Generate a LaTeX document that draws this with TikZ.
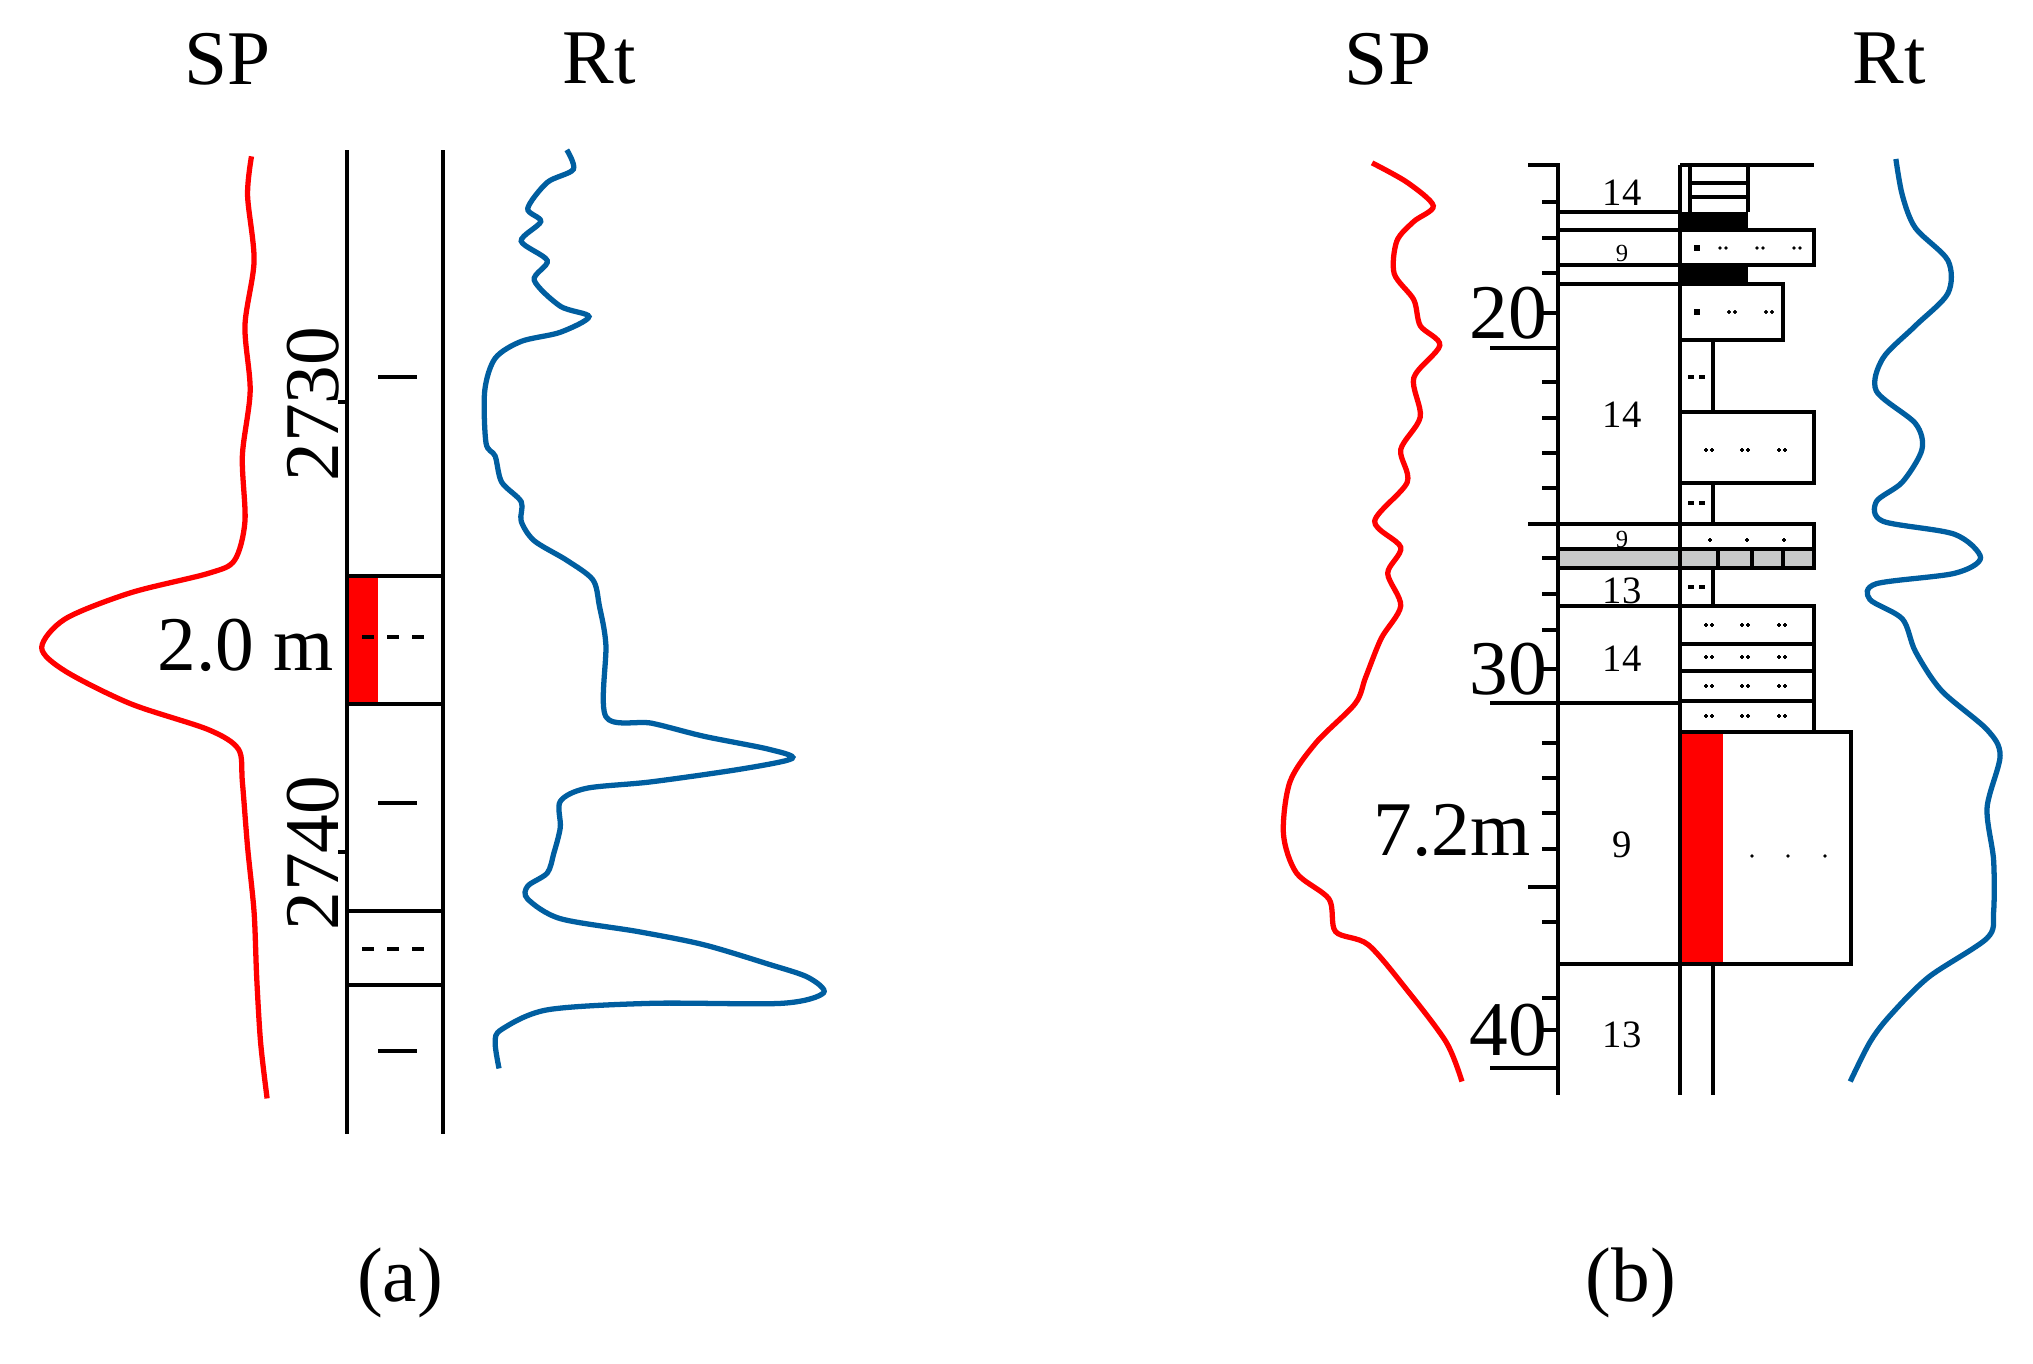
\documentclass[tikz,border=0pt]{standalone}
\usepackage{fontspec}
\setmainfont{Liberation Serif}
\definecolor{rtblue}{RGB}{0,94,160}
\definecolor{litgray}{RGB}{200,202,202}
\tikzset{
  col/.style = {line width=0.9pt},
  splog/.style = {draw=red, line width=1.5pt},
  rtlog/.style = {draw=rtblue, line width=1.5pt},
  big/.style = {font=\fontsize{22}{24}\selectfont, inner sep=0pt},
  small/.style = {font=\fontsize{11}{12}\selectfont, inner sep=0pt},
  tiny/.style = {font=\fontsize{7}{8}\selectfont, inner sep=0pt},
}
\newcommand{\dotpair}[2]{\fill (#1-3,#2) circle [radius=1.8]; \fill (#1+3,#2) circle [radius=1.8];}
\begin{document}
\begin{tikzpicture}[x=0.01cm, y=-0.01cm]
\useasboundingbox (0,0) rectangle (2033,1363);
% headings
\node[big] (spa) at (228,59){SP};
\node[big] (rta) at (599,59){Rt};
\node[big] (spb) at (1388,59){SP};
\node[big] (rtb) at (1889,59){Rt};
\node[big] (capa) at (400,1283){(a)};
\node[big] (capb) at (1631,1283){(b)};

% ---- panel (a) column
\fill[red] (347,576) rectangle (378,704);
\draw[col] (347,150) -- (347,1134);
\draw[col] (443,150) -- (443,1134);
\draw[col] (347,576) -- (443,576);
\draw[col] (347,704) -- (443,704);
\draw[col] (347,911) -- (443,911);
\draw[col] (347,985) -- (443,985);
\foreach \y in {377,803,1051} \draw[col] (378,\y) -- (417,\y);
\foreach \x in {368,393,418} \draw[col] (\x-6,637) -- (\x+6,637);
\foreach \x in {368,393,418} \draw[col] (\x-6,949) -- (\x+6,949);
\draw[col] (338,402) -- (347,402);
\draw[col] (338,852) -- (347,852);
\node[big, rotate=90] (da) at (313,404){2730};
\node[big, rotate=90] (db) at (313,853){2740};
\node[big] (tha) at (246,645){2.0 m};

% ---- panel (a) logs
\begin{scope}[xscale=1.303, yscale=1.303]
\draw[splog] plot[smooth] coordinates {(193,120) (190,150) (195,200) (188,250) (192,300) (186,350) (188,400) (180,430) (160,440) (100,455) (50,475) (32,497) (50,515) (100,540) (160,560) (183,575) (186,600) (190,650) (195,700) (197,750) (200,800) (205,843)};
\draw[rtlog] plot[smooth] coordinates {(435,115) (440,130) (420,140) (405,160) (415,170) (400,185) (420,200) (410,215) (430,235) (452,243) (430,255) (400,262) (380,275) (372,300) (373,340) (380,350) (385,370) (400,385) (400,400) (410,415) (435,430) (455,445) (460,465) (465,495) (465,550) (500,555) (540,565) (590,575) (608,582) (570,590) (500,600) (450,605) (430,615) (430,635) (425,655) (420,670) (405,680) (405,690) (430,705) (490,715) (540,725) (590,740) (620,750) (632,762) (600,770) (500,770) (420,775) (385,790) (380,800) (383,820)};
\end{scope}

% ---- panel (b) column
\fill[red] (1680,732) rectangle (1723,964);
\fill[litgray] (1558,549) rectangle (1814,568);
\fill (1680,212) rectangle (1748,229);
\fill (1680,265) rectangle (1748,284);
\draw[col] (1528,165) -- (1558,165) -- (1558,1095);
\draw[col] (1680,165) -- (1680,1095);
\draw[col] (1680,165) -- (1814,165);
\draw[col] (1690,165) -- (1690,212);
\draw[col] (1748,165) -- (1748,212);
\draw[col] (1690,183) -- (1748,183);
\draw[col] (1690,197) -- (1748,197);
\foreach \y in {212,230,265,284,568,606,964} \draw[col] (1558,\y) -- (1680,\y);
\draw[col] (1680,230) rectangle (1814,265);
\draw[col] (1680,284) rectangle (1783,340);
\draw[col] (1680,340) rectangle (1713,412);
\draw[col] (1680,412) rectangle (1814,483);
\draw[col] (1680,483) rectangle (1713,524);
\draw[col] (1528,524) -- (1814,524) -- (1814,568) -- (1558,568);
\draw[col] (1558,549) -- (1814,549);
\foreach \x in {1718,1752,1783} \draw[col] (\x,549) -- (\x,568);
\draw[col] (1680,568) rectangle (1713,606);
\foreach \ya/\yb in {606/644,644/671,671/701,701/732} \draw[col] (1680,\ya) rectangle (1814,\yb);
\draw[col] (1490,703) -- (1680,703);
\draw[col] (1680,732) rectangle (1851,964);
\draw[col] (1713,964) -- (1713,1095);
% scale ticks
\foreach \y in {202,238,273,313,382,418,453,488,558,594,630,669,743,778,813,849,922,998,1030} \draw[col] (1542,\y) -- (1558,\y);
\draw[col] (1528,887) -- (1558,887);
\foreach \y in {348,1068} \draw[col] (1490,\y) -- (1558,\y);
\node[big] (va) at (1508,313){20};
\node[big] (vb) at (1508,669){30};
\node[big] (vc) at (1508,1030){40};
\node[big] (thb) at (1452,830){7.2m};
% bed numbers
\node[small] (na) at (1622,193){14};
\node[tiny] (nb) at (1622,253){9};
\node[small] (nc) at (1622,415){14};
\node[tiny] (nd) at (1622,539){9};
\node[small] (ne) at (1622,591){13};
\node[small] (nf) at (1622,659){14};
\node[small] (ng) at (1622,845){9};
\node[small] (nh) at (1622,1035){13};
% lithology marks
\foreach \y in {248,312} \draw[line width=1.5pt] (1694,\y) -- (1700,\y);
\foreach \y in {377,503,587} {\draw[line width=1.2pt] (1688,\y) -- (1694,\y); \draw[line width=1.2pt] (1699,\y) -- (1705,\y);}
\foreach \x in {1723,1760,1797} \dotpair{\x}{248}
\foreach \x in {1732,1769} \dotpair{\x}{312}
\foreach \x in {1709,1745,1782} {\dotpair{\x}{450} \dotpair{\x}{625} \dotpair{\x}{657} \dotpair{\x}{686} \dotpair{\x}{716}}
\foreach \x in {1710,1747,1784} \fill (\x,540) circle [radius=1.8];
\foreach \x in {1752,1788,1825} \fill (\x,856) circle [radius=1.8];

% ---- panel (b) logs
\begin{scope}[xscale=1.303, yscale=1.303]
\draw[splog] plot[smooth] coordinates {(1053,125) (1080,140) (1100,158) (1085,170) (1072,185) (1070,210) (1085,230) (1090,250) (1105,265) (1085,290) (1090,320) (1075,345) (1080,370) (1055,400) (1075,420) (1065,440) (1075,465) (1060,490) (1048,520) (1040,540) (1010,570) (990,600) (985,640) (995,670) (1020,690) (1025,715) (1050,725) (1080,760) (1110,800) (1122,830)};
\draw[rtlog] plot[smooth] coordinates {(1455,122) (1460,150) (1470,175) (1495,200) (1495,225) (1470,250) (1445,275) (1440,300) (1470,325) (1475,345) (1460,370) (1440,385) (1445,400) (1500,410) (1520,428) (1500,440) (1440,448) (1435,460) (1460,475) (1470,500) (1490,530) (1525,560) (1535,580) (1525,620) (1530,660) (1530,700) (1525,720) (1480,750) (1450,780) (1435,800) (1420,830)};
\end{scope}
\end{tikzpicture}
\end{document}
